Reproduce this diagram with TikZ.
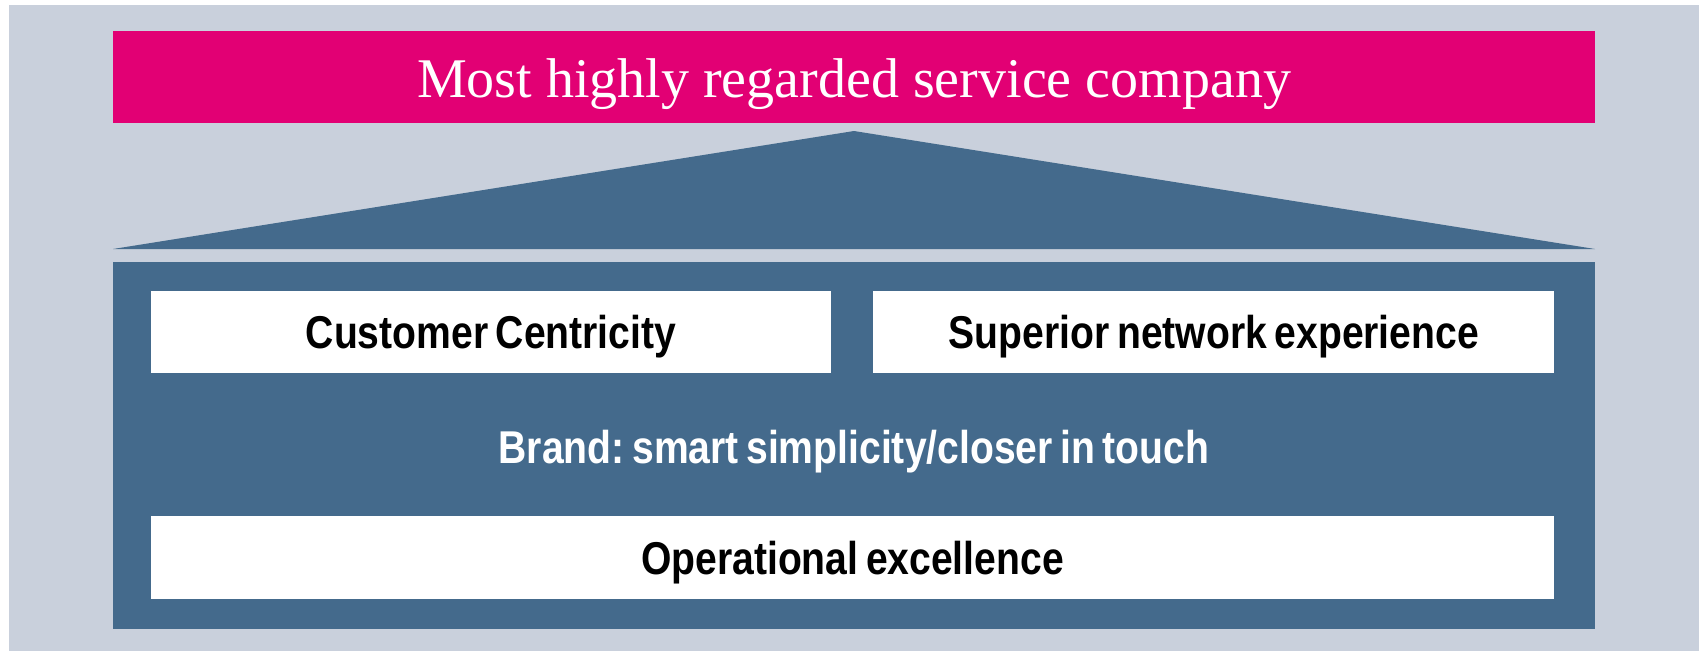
\documentclass[tikz,border=0pt]{standalone}
\usepackage{fontspec}
\setmainfont{Liberation Serif}
\newfontfamily\condfont{Liberation Sans}[FakeStretch=0.85, WordSpace=0.7]
\usetikzlibrary{positioning}
\frenchspacing

\definecolor{frameGray}{RGB}{201,208,220}
\definecolor{houseBlue}{RGB}{68,106,140}
\definecolor{topMagenta}{RGB}{226,0,116}

\begin{document}
\begin{tikzpicture}[
			x=1pt, y=-1pt,
			every node/.style={align=center, inner sep=0pt, text depth=0pt},
			goalBox/.style={fill=topMagenta, text=white, minimum width=1482pt, minimum height=92pt, text height=37pt, font=\fontsize{56}{60}\selectfont},
			pillarBox/.style={fill=white, text=black, minimum height=82pt, text height=33pt, font=\condfont\bfseries\fontsize{46}{50}\selectfont},
			brandText/.style={text=white, text height=33pt, font=\condfont\bfseries\fontsize{46}{50}\selectfont}
		]
		\useasboundingbox[fill=white] (0,0) rectangle (1704,651);
		\fill[frameGray] (9,5) rectangle (1699,651);

		% Top: goal
		\node[goalBox, text height=41pt] (goal) at (854,77) {Most highly regarded service company};

		% Roof and body of the house
		\fill[houseBlue] (113,249) -- (854,131) -- (1595,249) -- cycle;
		\fill[houseBlue] (113,262) rectangle (1595,629);

		% Pillars
		\node[pillarBox, minimum width=680pt] (cust) at (491,332) {Customer Centricity};
		\node[pillarBox, minimum width=681pt, right=42pt of cust] (net) {Superior network experience};
		\node[brandText] (brand) at (854,447) {Brand: smart simplicity/closer in touch};
		\node[pillarBox, minimum width=1403pt, minimum height=83pt] (opex) at (852.5,557.5) {Operational excellence};
	\end{tikzpicture}
\end{document}
